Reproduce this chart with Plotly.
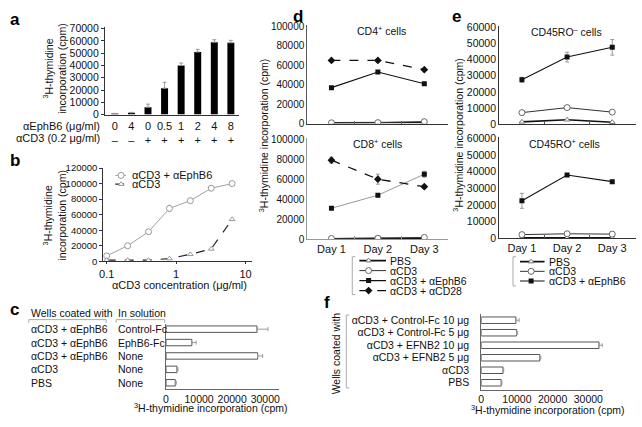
import plotly.graph_objects as go

W, H = 642, 427
FONT = "Liberation Sans, Arial, Helvetica, sans-serif"


def px(x):
    return x / W


def py(y):
    return 1 - y / H


# ---------------- data ----------------
# panel a
a_ephb6 = ["0", "4", "0", "0.5", "1", "2", "4", "8"]
a_cd3 = ["–", "–", "+", "+", "+", "+", "+", "+"]
a_values = [800, 1500, 6000, 21500, 40000, 51000, 59000, 58500]
a_errors = [200, 300, 2500, 4800, 2000, 2200, 2000, 2000]

# panel b
b_conc = [0.1, 0.2, 0.4, 0.8, 1.6, 3.2, 6.4]
b_cd3_ephb6 = [7000, 20000, 38000, 68000, 78000, 94000, 100000]
b_cd3_ephb6_err = [500, 1000, 1500, 4000, 2000, 3000, 2500]
b_cd3 = [1500, 1500, 1500, 3500, 9000, 16000, 54000]
b_names = ["αCD3 + αEphB6", "αCD3"]

# panel c
c_coated = ["αCD3 + αEphB6", "αCD3 + αEphB6", "αCD3 + αEphB6", "αCD3", "PBS"]
c_solution = ["Control-Fc", "EphB6-Fc", "None", "None", "None"]
c_values = [27500, 7800, 27700, 3300, 2800]
c_errors = [3300, 1300, 1500, 300, 300]
c_ticks = [0, 10000, 20000, 30000]

# panel d
days = ["Day 1", "Day 2", "Day 3"]
d_names = ["PBS", "αCD3", "αCD3 + αEphB6", "αCD3 + αCD28"]
d_cd4 = {
    "PBS": [800, 800, 1200],
    "αCD3": [800, 1000, 2000],
    "αCD3 + αEphB6": [37000, 53000, 41000],
    "αCD3 + αCD28": [65000, 65000, 55500],
}
d_cd8 = {
    "PBS": [500, 500, 800],
    "αCD3": [800, 1000, 1800],
    "αCD3 + αEphB6": [31000, 44000, 65000],
    "αCD3 + αCD28": [79000, 60000, 52500],
}
d_cd8_err = {
    "PBS": [0, 0, 0],
    "αCD3": [300, 300, 1500],
    "αCD3 + αEphB6": [1000, 1500, 3000],
    "αCD3 + αCD28": [3000, 5000, 1500],
}
d_ticks = [0, 20000, 40000, 60000, 80000, 100000]

# panel e
e_names = ["PBS", "αCD3", "αCD3 + αEphB6"]
e_neg = {
    "PBS": [1500, 2800, 1300],
    "αCD3": [7200, 10300, 7500],
    "αCD3 + αEphB6": [27500, 41500, 47500],
}
e_neg_err = {
    "PBS": [0, 0, 0],
    "αCD3": [500, 1000, 500],
    "αCD3 + αEphB6": [1500, 3000, 4800],
}
e_pos = {
    "PBS": [300, 300, 300],
    "αCD3": [2200, 2700, 2500],
    "αCD3 + αEphB6": [22500, 38000, 34000],
}
e_pos_err = {
    "PBS": [0, 0, 0],
    "αCD3": [300, 300, 300],
    "αCD3 + αEphB6": [4500, 800, 800],
}
e_ticks = [0, 10000, 20000, 30000, 40000, 50000, 60000]

# panel f
f_labels = ["αCD3 + Control-Fc 10 μg", "αCD3 + Control-Fc 5 μg", "αCD3 + EFNB2 10 μg",
            "αCD3 + EFNB2 5 μg", "αCD3", "PBS"]
f_values = [9700, 9900, 33000, 16400, 6100, 5600]
f_errors = [900, 300, 900, 300, 200, 200]

# ---------------- styles ----------------
styles = {
    "PBS": dict(line=dict(color="#111", width=1.6),
                marker=dict(symbol="triangle-up", size=5, color="white", line=dict(color="#777", width=1))),
    "αCD3": dict(line=dict(color="#333", width=1),
                 marker=dict(symbol="circle", size=6, color="white", line=dict(color="#666", width=1))),
    "αCD3 + αEphB6": dict(line=dict(color="#111", width=1.1),
                          marker=dict(symbol="square", size=5, color="#111", line=dict(width=0))),
    "αCD3 + αCD28": dict(line=dict(color="#111", width=1.3, dash="dash"),
                         marker=dict(symbol="diamond", size=6, color="#111", line=dict(width=0))),
}
b_styles = [
    dict(line=dict(color="#a0a0a0", width=1),
         marker=dict(symbol="circle", size=6, color="white", line=dict(color="#999", width=1))),
    dict(line=dict(color="#222", width=1.2, dash="dash"),
         marker=dict(symbol="triangle-up", size=5, color="white", line=dict(color="#999", width=1))),
]

ERR = dict(color="#999", thickness=1, width=2)
TICKFONT = dict(size=10.5, color="#111", family=FONT)

fig = go.Figure()

# ---------------- panel a ----------------
fig.add_trace(go.Bar(
    x=list(range(len(a_values))), y=a_values, width=0.42, xaxis="x", yaxis="y",
    marker=dict(color="black", line=dict(width=0)),
    error_y=dict(type="data", array=a_errors, arrayminus=[0] * len(a_errors), symmetric=False, **ERR),
    showlegend=False))

# ---------------- panel b ----------------
fig.add_trace(go.Scatter(x=b_conc, y=b_cd3_ephb6, mode="lines+markers", xaxis="x2", yaxis="y2",
                         error_y=dict(type="data", array=b_cd3_ephb6_err, color="#aaa", thickness=1, width=1.5),
                         showlegend=False, **b_styles[0]))
fig.add_trace(go.Scatter(x=b_conc, y=b_cd3, mode="lines+markers", xaxis="x2", yaxis="y2",
                         showlegend=False, **b_styles[1]))

# ---------------- panel c ----------------
fig.add_trace(go.Bar(
    x=c_values, y=list(range(len(c_values))), orientation="h", width=0.48, xaxis="x3", yaxis="y3",
    marker=dict(color="white", line=dict(color="#555", width=1)),
    error_x=dict(type="data", array=c_errors, arrayminus=[0] * len(c_errors), symmetric=False, **ERR),
    showlegend=False))

# ---------------- panel d ----------------
xd = list(range(len(days)))
for name in d_names:
    fig.add_trace(go.Scatter(x=xd, y=d_cd4[name], mode="lines+markers", xaxis="x4", yaxis="y4",
                             showlegend=False, **styles[name]))
for name in d_names:
    st = dict(styles[name])
    if name == "αCD3 + αEphB6":
        st = dict(line=dict(color="#999", width=1), marker=styles[name]["marker"])
    fig.add_trace(go.Scatter(x=xd, y=d_cd8[name], mode="lines+markers", xaxis="x5", yaxis="y5",
                             error_y=dict(type="data", array=d_cd8_err[name], **ERR),
                             showlegend=False, **st))

# ---------------- panel e ----------------
for name in e_names:
    fig.add_trace(go.Scatter(x=xd, y=e_neg[name], mode="lines+markers", xaxis="x6", yaxis="y6",
                             error_y=dict(type="data", array=e_neg_err[name], **ERR),
                             showlegend=False, **styles[name]))
for name in e_names:
    fig.add_trace(go.Scatter(x=xd, y=e_pos[name], mode="lines+markers", xaxis="x7", yaxis="y7",
                             error_y=dict(type="data", array=e_pos_err[name], **ERR),
                             showlegend=False, **styles[name]))

# ---------------- panel f ----------------
fig.add_trace(go.Bar(
    x=f_values, y=list(range(len(f_values))), orientation="h", width=0.52, xaxis="x8", yaxis="y8",
    marker=dict(color="white", line=dict(color="#555", width=1)),
    error_x=dict(type="data", array=f_errors, arrayminus=[0] * len(f_errors), symmetric=False, **ERR),
    showlegend=False))

# ---------------- legend keys (drawn on hidden legend axes) ----------------
for i, st in enumerate(b_styles):
    fig.add_trace(go.Scatter(x=[0, 0.55, 1], y=[i, i, i], mode="lines+markers", xaxis="x9", yaxis="y9",
                             showlegend=False, hoverinfo="skip",
                             line=st["line"], marker=dict(st["marker"], opacity=[0, 1, 0])))
for i, name in enumerate(d_names):
    st = styles[name]
    fig.add_trace(go.Scatter(x=[0, 0.35, 1], y=[i, i, i], mode="lines+markers", xaxis="x10", yaxis="y10",
                             showlegend=False, hoverinfo="skip",
                             line=st["line"], marker=dict(st["marker"], opacity=[0, 1, 0])))
for i, name in enumerate(e_names):
    st = styles[name]
    fig.add_trace(go.Scatter(x=[0, 0.45, 1], y=[i, i, i], mode="lines+markers", xaxis="x11", yaxis="y11",
                             showlegend=False, hoverinfo="skip",
                             line=st["line"], marker=dict(st["marker"], opacity=[0, 1, 0])))


def ax(**kw):
    base = dict(showgrid=False, zeroline=False, showline=True, linecolor="#333", linewidth=1,
                tickfont=TICKFONT, ticks="", fixedrange=True, tickformat="d")
    base.update(kw)
    return base


hidden = dict(visible=False, showgrid=False, zeroline=False, fixedrange=True)
SMALLTICK = dict(size=9.5, color="#111", family=FONT)

layout = dict(
    width=W, height=H, margin=dict(l=0, r=0, t=0, b=0),
    paper_bgcolor="white", plot_bgcolor="rgba(0,0,0,0)",
    font=dict(family=FONT, size=10.5, color="#111"),
    showlegend=False,
    # a
    xaxis=ax(domain=[px(101.7), px(237)], range=[-0.6, 7.5], anchor="y",
             tickvals=list(range(len(a_values))),
             ticktext=[f"{e}<br>{c}" for e, c in zip(a_ephb6, a_cd3)], ticklabelstandoff=1,
             tickfont=dict(size=11, color="#111", family=FONT)),
    yaxis=ax(domain=[py(111.7), py(21.7)], range=[0, 71300], anchor="x",
             tickvals=list(range(0, 70001, 10000)), ticks="outside", ticklen=3, tickcolor="#333"),
    # b
    xaxis2=ax(type="log", domain=[px(100), px(250)], range=[-1.05, 1.093], anchor="y2",
              tickvals=[0.1, 1, 10], ticktext=["0.1", "1", "10"], ticks="outside", ticklen=2,
              tickcolor="#333", tickfont=dict(size=11, color="#111", family=FONT), tickformat=""),
    yaxis2=ax(domain=[py(262.7), py(166.7)], range=[0, 120000], anchor="x2",
              tickvals=list(range(0, 120001, 20000)), ticks="outside", ticklen=3, tickcolor="#333",
              tickfont=SMALLTICK),
    # c
    xaxis3=ax(domain=[px(163.3), px(277)], range=[0, 34100], anchor="y3", tickvals=c_ticks,
              linecolor="#666"),
    yaxis3=ax(domain=[py(394), py(326.7)], range=[4.46, -0.42], anchor="x3", showticklabels=False,
              linecolor="#666"),
    # d top
    xaxis4=ax(domain=[px(305.7), px(447)], range=[-0.52, 2.5], anchor="y4", tickvals=xd,
              showticklabels=False, minor=dict(tickvals=[0.5, 1.5], ticks="inside", ticklen=3,
                                               tickcolor="#666")),
    yaxis4=ax(domain=[py(121), py(20)], range=[0, 101000], anchor="x4", tickvals=d_ticks,
              linecolor="#555", tickfont=dict(size=10, color="#111", family=FONT)),
    # d bottom
    xaxis5=ax(domain=[px(305.7), px(447)], range=[-0.52, 2.5], anchor="y5", tickvals=xd,
              ticktext=days, linecolor="#999",
              minor=dict(tickvals=[0.5, 1.5], ticks="inside", ticklen=3, tickcolor="#999"),
              tickfont=dict(size=11, color="#111", family=FONT)),
    yaxis5=ax(domain=[py(240), py(136)], range=[0, 101000], anchor="x5", tickvals=d_ticks,
              linecolor="#999", tickfont=dict(size=10, color="#111", family=FONT)),
    # e top
    xaxis6=ax(domain=[px(499), px(637)], range=[-0.505, 2.527], anchor="y6", tickvals=xd,
              showticklabels=False, minor=dict(tickvals=[0.5, 1.5], ticks="inside", ticklen=3,
                                               tickcolor="#555")),
    yaxis6=ax(domain=[py(121.7), py(20.5)], range=[0, 60700], anchor="x6", tickvals=e_ticks),
    # e bottom
    xaxis7=ax(domain=[px(499), px(637)], range=[-0.505, 2.527], anchor="y7", tickvals=xd,
              ticktext=days, minor=dict(tickvals=[0.5, 1.5], ticks="inside", ticklen=3,
                                        tickcolor="#555"),
              tickfont=dict(size=11, color="#111", family=FONT)),
    yaxis7=ax(domain=[py(239), py(135)], range=[0, 60700], anchor="x7", tickvals=e_ticks),
    # f
    xaxis8=ax(domain=[px(481), px(604)], range=[0, 34200], anchor="y8", tickvals=c_ticks,
              linecolor="#666"),
    yaxis8=ax(domain=[py(395), py(317)], range=[5.57, -0.49], anchor="x8",
              tickvals=list(range(len(f_labels))), ticktext=f_labels, ticklabelstandoff=9,
              linecolor="#666", tickformat=""),
    # legend axes
    xaxis9=dict(hidden, domain=[px(112), px(123)], range=[0, 1], anchor="y9"),
    yaxis9=dict(hidden, domain=[py(187.8), py(169.8)], range=[1.5, -0.5], anchor="x9"),
    xaxis10=dict(hidden, domain=[px(358), px(385)], range=[0, 1], anchor="y10"),
    yaxis10=dict(hidden, domain=[py(298), py(256.8)], range=[3.5, -0.5], anchor="x10"),
    xaxis11=dict(hidden, domain=[px(520), px(545)], range=[0, 1], anchor="y11"),
    yaxis11=dict(hidden, domain=[py(288), py(258)], range=[2.5, -0.5], anchor="x11"),
)

annotations = []


def txt(x, y, s, size=10.5, xanchor="center", yanchor="middle", angle=0, bold=False,
        xref="paper", yref="paper", color="#111"):
    xx = px(x) if xref == "paper" else x
    yy = py(y) if yref == "paper" else y
    annotations.append(dict(
        x=xx, y=yy, xref=xref, yref=yref, text=(f"<b>{s}</b>" if bold else s), showarrow=False,
        xanchor=xanchor, yanchor=yanchor, textangle=angle,
        font=dict(family=FONT, size=size, color=color)))


# panel letters
for letter, x, y in [("a", 4, 14), ("b", 4, 159), ("c", 4, 312), ("d", 289, 11),
                     ("e", 450, 11), ("f", 320, 305)]:
    txt(x, y, letter, size=17, xanchor="left", bold=True, color="black")

# y titles
ytitle2 = "<sup>3</sup>H-thymidine<br>incorporation (cpm)"
txt(51, 65, ytitle2, angle=-90)
txt(51, 216, ytitle2, angle=-90)
ytitle1 = "<sup>3</sup>H-thymidine incorporation (cpm)"
txt(261, 133, ytitle1, angle=-90)
txt(457, 133, ytitle1, angle=-90)

# panel a row titles
txt(99, 123.5, "αEphB6 (μg/ml)", xanchor="right", size=11)
txt(99, 136, "αCD3 (0.2 μg/ml)", xanchor="right", size=11)

# panel b
txt(177, 287.5, "αCD3 concentration (μg/ml)", size=11)
for i, name in enumerate(b_names):
    txt(127, i, name, xanchor="left", yref="y9", size=11)

# panel c
txt(25, 316, "Wells coated with", xanchor="left")
txt(113, 316, "In solution", xanchor="left")
for i, (a, b) in enumerate(zip(c_coated, c_solution)):
    txt(25, i, a, xanchor="left", yref="y3")
    txt(113, i, b, xanchor="left", yref="y3")
txt(208, 413, ytitle1)

# panel d
txt(380, 25, "CD4<sup>+</sup> cells")
txt(376, 141, "CD8<sup>+</sup> cells")
for i, name in enumerate(d_names):
    txt(387, i, name, xanchor="left", yref="y10")

# panel e
txt(567, 26, "CD45RO<sup>–</sup> cells")
txt(565, 141.5, "CD45RO<sup>+</sup> cells")
for i, name in enumerate(e_names):
    txt(547, i, name, xanchor="left", yref="y11")

# panel f
txt(335, 357, "Wells coated with", angle=-90)
txt(548, 415, ytitle1)

layout["annotations"] = annotations


def path_px(points):
    d = "M" + " L".join(f"{px(x):.5f},{py(y):.5f}" for x, y in points)
    return dict(type="path", xref="paper", yref="paper", path=d,
                line=dict(color="#aaa", width=1))


layout["shapes"] = [
    path_px([(25, 326), (25, 322.7), (103, 322.7), (103, 326)]),
    path_px([(113, 326), (113, 322.7), (162, 322.7), (162, 326)]),
    path_px([(354, 258), (351, 258), (351, 297), (354, 297)]),
    path_px([(516, 258), (513, 258), (513, 288), (516, 288)]),
    path_px([(348, 318), (345, 318), (345, 393), (348, 393)]),
]

fig.update_layout(**layout)
fig.write_html("out.html", config={"staticPlot": True},
               post_script="document.body.style.margin='0';document.body.style.overflow='hidden';")
